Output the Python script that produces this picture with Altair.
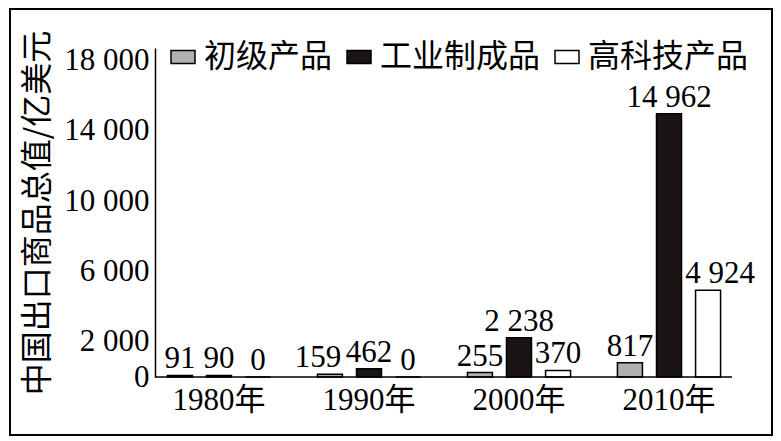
import pandas as pd
import altair as alt

years = ['1980年', '1990年', '2000年', '2010年']
types = ['初级产品', '工业制成品', '高科技产品']
primary = [91, 159, 255, 817]
manufactured = [90, 462, 2238, 14962]
hightech = [0, 0, 370, 4924]
y_ticks = [0, 2000, 6000, 10000, 14000, 18000]
colors = ['#b0b0b0', '#1a1414', '#ffffff']

NUM_FONT = 'Liberation Serif, Noto Sans CJK SC'
CJK_FONT = 'Noto Sans CJK SC'

# long table: one row per bar, label with a space as thousands separator
rows = []
for t, vals in zip(types, [primary, manufactured, hightech]):
    for yr, v in zip(years, vals):
        rows.append({'year': yr, 'type': t, 'value': v,
                     'label': f'{v:,}'.replace(',', ' ')})
df = pd.DataFrame(rows)

x_enc = alt.X('year:N', sort=years, title=None,
              scale=alt.Scale(range=[-11, 589], paddingInner=0, paddingOuter=0),
              axis=alt.Axis(labelAngle=0, ticks=False, domain=False, labelPadding=8,
                            labelFont=NUM_FONT, labelFontSize=31, labelColor='black'))
off_enc = alt.XOffset('type:N', sort=types,
                      scale=alt.Scale(paddingInner=0.36, paddingOuter=0.6))
y_enc = alt.Y('value:Q', title='中国出口商品总值/亿美元',
              scale=alt.Scale(domain=[0, 18700], nice=False),
              axis=alt.Axis(values=y_ticks, ticks=False, grid=False, labelPadding=6,
                            labelExpr="replace(format(datum.value, ','), ',', ' ')",
                            labelFont=NUM_FONT, labelFontSize=31, labelColor='black',
                            domainColor='black', domainWidth=1.5,
                            titleFont=CJK_FONT, titleFontSize=32, titleFontWeight='normal',
                            titleColor='black', titleX=-118, titleBaseline='middle'))

bars = alt.Chart(df).mark_bar(stroke='black', strokeWidth=1.5).encode(
    x=x_enc,
    xOffset=off_enc,
    y=y_enc,
    color=alt.Color('type:N', sort=types,
                    scale=alt.Scale(domain=types, range=colors),
                    legend=alt.Legend(orient='none', legendX=12, legendY=-7,
                                      direction='horizontal', columns=3, title=None,
                                      symbolType='M-1,-0.55L1,-0.55L1,0.55L-1,0.55Z',
                                      symbolSize=576, symbolStrokeColor='black',
                                      symbolStrokeWidth=1.5, labelFont=CJK_FONT,
                                      labelFontSize=32, labelColor='black', labelOffset=5,
                                      labelLimit=300, columnPadding=10, padding=0))
)


def value_labels(dx, cond):
    # value text above each bar; dx nudges crowded labels sideways
    return alt.Chart(df).transform_filter(cond).mark_text(
        font=NUM_FONT, fontSize=31, baseline='alphabetic', dy=-7, dx=dx, color='black'
    ).encode(
        x=alt.X('year:N', sort=years),
        xOffset=alt.XOffset('type:N', sort=types),
        y='value:Q',
        text='label:N'
    )


left_nudge = "datum.year == '1990年' && datum.type == '初级产品'"
right_nudge = "datum.year == '2010年' && datum.type == '高科技产品'"
labels = alt.layer(
    value_labels(0, f"!({left_nudge}) && !({right_nudge})"),
    value_labels(-12, left_nudge),
    value_labels(12, right_nudge),
)

one = pd.DataFrame({'k': [0]})
x_line = alt.Chart(one).mark_rule(color='black', strokeWidth=1.5).encode(
    x=alt.value(0), x2=alt.value(577), y=alt.value(329))
frame = alt.Chart(one).mark_rect(filled=False, stroke='black', strokeWidth=2).encode(
    x=alt.value(-145), x2=alt.value(617), y=alt.value(-39), y2=alt.value(387))

chart = alt.layer(bars, labels, x_line, frame).properties(
    width=577, height=329,
    padding={'left': 147, 'top': 40, 'right': 41, 'bottom': 59},
    autosize=alt.AutoSizeParams(type='none'),
    background='white'
).configure_view(stroke=None)

chart.save("out.html", embed_options={"renderer": "svg", "actions": False})
